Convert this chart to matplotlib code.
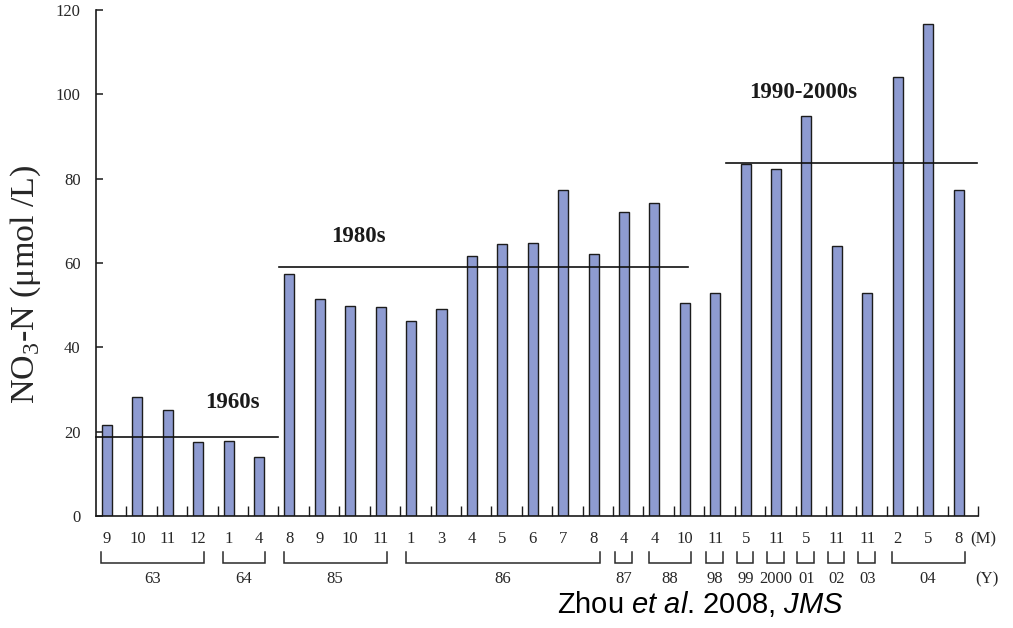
import matplotlib
matplotlib.use("Agg")
import matplotlib.pyplot as plt
import matplotlib.transforms as mtransforms
import numpy as np

plt.rcParams["font.family"] = ["Liberation Serif", "DejaVu Serif"]
plt.rcParams["mathtext.fontset"] = "custom"
plt.rcParams["mathtext.rm"] = "Liberation Sans"
plt.rcParams["mathtext.it"] = "Liberation Sans:italic"

# Sampling month of each observation
months = ["9", "10", "11", "12", "1", "4", "8", "9", "10", "11",
          "1", "3", "4", "5", "6", "7", "8", "4", "4", "10",
          "11", "5", "11", "5", "11", "11", "2", "5", "8"]

# NO3-N concentration (umol/L) for each observation
no3 = [21.5, 28.2, 25.1, 17.5, 17.9, 14.0, 57.3, 51.5, 49.7, 49.6,
       46.2, 49.2, 61.7, 64.4, 64.8, 77.2, 62.1, 72.0, 74.3, 50.6,
       52.8, 83.5, 82.2, 94.8, 64.0, 52.8, 104.2, 116.7, 77.4]

# Year groups (two-digit years) and how many observations each holds
years = ["63", "64", "85", "86", "87", "88", "98", "99", "2000",
         "01", "02", "03", "04"]
year_counts = [4, 2, 4, 7, 1, 2, 1, 1, 1, 1, 1, 1, 3]

# Decade averages
periods = ["1960s", "1980s", "1990-2000s"]
period_means = [18.8, 59.0, 83.6]

yticks = [0, 20, 40, 60, 80, 100, 120]

W, H = 1013, 628
fig = plt.figure(figsize=(W / 100, H / 100), dpi=100)
ax = fig.add_axes([96 / W, (H - 516) / H, 882 / W, 506 / H])

n = len(no3)
slots = np.arange(n)
centers = slots + 0.36
ax.bar(centers, no3, width=0.33, color="#8e9bd1", edgecolor="#1c1c1c",
       linewidth=1.0, zorder=2)

ax.set_xlim(0, n)
ax.set_ylim(0, 120)

# Axes styling
for side in ("top", "right"):
    ax.spines[side].set_visible(False)
for side in ("left", "bottom"):
    ax.spines[side].set_linewidth(1.2)
    ax.spines[side].set_color("#1a1a1a")

ax.set_yticks(yticks)
ax.set_yticklabels([str(v) for v in yticks])
ax.tick_params(axis="y", direction="in", length=5, width=1.1, pad=11,
               labelsize=12, labelcolor="#262626", color="#1a1a1a")
ax.set_xticks(np.arange(1, n + 1))
ax.set_xticklabels([])
ax.tick_params(axis="x", direction="in", length=7, width=1.0,
               color="#1a1a1a")

trans = mtransforms.blended_transform_factory(ax.transData, ax.transAxes)

def yf(px):
    return (516 - px) / 506

# Month labels under each bar
for x, m in zip(centers, months):
    ax.text(x, yf(539), m, transform=trans, ha="center", va="center",
            fontsize=12, color="#262626", clip_on=False)
ax.text(28.74, yf(539), "(M)", transform=trans, ha="left", va="center",
        fontsize=12, color="#262626", clip_on=False)

# Year brackets and labels
start = 0
for label, cnt in zip(years, year_counts):
    c0 = centers[start]
    c1 = centers[start + cnt - 1]
    if cnt == 1:
        x0, x1 = c0 - 0.3, c1 + 0.25
    else:
        x0, x1 = c0 - 0.18, c1 + 0.2
    ax.plot([x0, x0, x1, x1], [yf(552), yf(563), yf(563), yf(552)],
            transform=trans, color="#2a2a2a", lw=1.1, clip_on=False,
            solid_joinstyle="miter")
    ax.text((c0 + c1) / 2, yf(579), label, transform=trans, ha="center",
            va="center", fontsize=12, color="#262626", clip_on=False)
    start += cnt
ax.text(28.9, yf(579), "(Y)", transform=trans, ha="left", va="center",
        fontsize=12, color="#262626", clip_on=False)

# Decade mean lines with labels
line_x = [(0.0, 6.0), (6.02, 19.47), (20.7, 28.97)]
label_pos = [(4.5, 26.8), (8.62, 66.2), (23.25, 100.5)]
for name, mean, (x0, x1), (tx, ty) in zip(periods, period_means,
                                          line_x, label_pos):
    ax.plot([x0, x1], [mean, mean], color="#111111", lw=1.2, zorder=3,
            clip_on=False)
    ax.text(tx, ty, name, ha="center", va="center", fontsize=16.5,
            fontweight="bold", color="#1a1a1a")

fig.text(26 / W, 1 - 284 / H, r"NO$_\mathregular{3}$-N (μmol /L)",
         rotation=90, ha="center", va="center", fontsize=24.5,
         color="#262626")

fig.text(700 / W, 1 - 613 / H, r"Zhou $\mathit{et\ al}$. 2008, $\mathit{JMS}$",
         ha="center", va="baseline", fontsize=21,
         family=["Liberation Sans", "DejaVu Sans"], color="black")

fig.savefig("out.png", dpi=100)
